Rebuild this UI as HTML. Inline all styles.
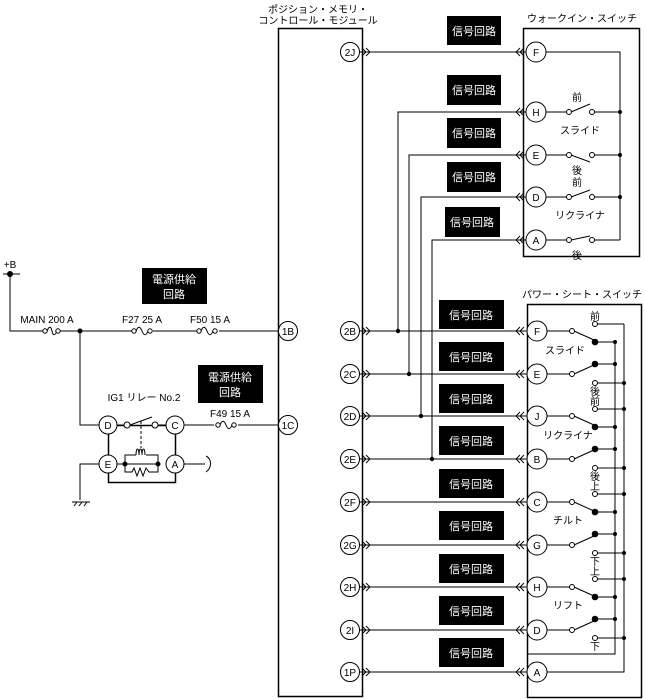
<!DOCTYPE html>
<html><head><meta charset="utf-8"><style>
html,body{margin:0;padding:0;background:#fff;}
svg{display:block;font-family:"Liberation Sans","Noto Sans CJK JP",sans-serif;}
</style></head><body>
<svg width="645" height="699" viewBox="0 0 645 699" xmlns="http://www.w3.org/2000/svg">
<g fill="none" stroke="#000" stroke-width="1">
<!-- ECU box -->
<rect x="278.5" y="28.5" width="84" height="668" stroke-width="1.5"/>
<!-- walk-in switch box -->
<rect x="523.5" y="28.5" width="116" height="228" stroke-width="1.5"/>
<!-- power seat box -->
<rect x="527.5" y="304.5" width="114" height="393" stroke-width="1.5"/>
<!-- relay box -->
<rect x="108.5" y="425.5" width="67" height="57" stroke-width="1.5"/>
</g>
<g font-size="10" fill="#000" text-anchor="middle">
<text x="318" y="13">ポジション・メモリ・</text>
<text x="318" y="24">コントロール・モジュール</text>
<text x="582" y="22">ウォークイン・スイッチ</text>
<text x="582" y="298">パワー・シート・スイッチ</text>
</g>
<!-- signal boxes -->
<g fill="#000">
<rect x="447" y="16" width="54" height="29"/>
<rect x="447" y="75" width="54" height="30"/>
<rect x="447" y="118" width="54" height="30"/>
<rect x="447" y="162" width="54" height="30"/>
<rect x="445" y="207" width="55" height="30"/>
<rect x="439" y="300" width="65" height="29"/>
<rect x="439" y="342" width="65" height="29"/>
<rect x="439" y="384" width="65" height="29"/>
<rect x="439" y="426" width="65" height="29"/>
<rect x="439" y="469" width="65" height="29"/>
<rect x="439" y="511" width="65" height="29"/>
<rect x="439" y="554" width="65" height="29"/>
<rect x="439" y="596" width="65" height="29"/>
<rect x="439" y="638" width="65" height="29"/>
<rect x="142" y="268" width="65" height="36"/>
<rect x="198" y="365" width="65" height="38"/>
</g>
<g fill="#fff" font-size="11" text-anchor="middle">
<text x="474" y="35">信号回路</text>
<text x="474" y="94">信号回路</text>
<text x="474" y="137">信号回路</text>
<text x="474" y="181">信号回路</text>
<text x="472" y="226">信号回路</text>
<text x="471" y="319">信号回路</text>
<text x="471" y="361">信号回路</text>
<text x="471" y="403">信号回路</text>
<text x="471" y="445">信号回路</text>
<text x="471" y="488">信号回路</text>
<text x="471" y="530">信号回路</text>
<text x="471" y="573">信号回路</text>
<text x="471" y="615">信号回路</text>
<text x="471" y="657">信号回路</text>
<text x="174" y="283">電源供給</text>
<text x="174" y="298">回路</text>
<text x="230" y="381">電源供給</text>
<text x="230" y="396">回路</text>
</g>
<!-- wires -->
<g fill="none" stroke="#000" stroke-width="1">
<path d="M359 52H527"/>
<path d="M359 331H527M359 374H527M359 416H527M359 459H527M359 502H527M359 545H527M359 587H527M359 630H527M359 672H527"/>
<path d="M527 112H398V331M527 155H409V374M527 197H421V416M527 240H432V459"/>
<!-- walk-in internal -->
<path d="M545 52H620V240M545 112H567M571 112L590 104M545 155H567M571 155L590 162M545 197H567M571 197L590 190M545 240H567M571 240L590 236M594 112H620M594 155H620M594 197H620M594 240H620"/>
<!-- left power -->
<path d="M3 274H20M10 274V331H44M58 331H133M153 331H197M219 331H279"/>
<path d="M80 331V425H99M117 425H124M130 425L152 417M158 425H166M184 425H214M238 425H279"/>
<path d="M99 464H80V500M184 464H205"/>
<path d="M141 421V448" stroke-dasharray="3,2"/>
<path d="M117 464H158M125 464V455H136M146 455H158V464M125 464V472H132L134 468L137 476L140 468L143 476L146 468L149 472H158V464"/>
<path d="M136 455c0-8 3-8 3 0c0-8 3-8 3 0c0-8 3-8 3 0"/>
<path d="M206 456c6 3 6 12 0 16"/>
<path d="M72 502H90M74 506L77 502M79 506L82 502M84 506L87 502"/>
<!-- fuses -->
<path d="M47 331c2-5 4-5 5 0s3 5 5 0M136 331c2-5 4-5 6 0s4 5 6 0M201 331c2-5 4-5 6 0s4 5 6 0M220 425c2-5 4-5 6 0s4 5 6 0"/>
</g>
<g fill="#fff" stroke="#000">
<circle cx="45" cy="331" r="2.2"/><circle cx="58" cy="331" r="2.2"/>
<circle cx="134" cy="331" r="2.2"/><circle cx="150" cy="331" r="2.2"/>
<circle cx="199" cy="331" r="2.2"/><circle cx="215" cy="331" r="2.2"/>
<circle cx="218" cy="425" r="2.2"/><circle cx="234" cy="425" r="2.2"/>
<circle cx="127" cy="425" r="3"/><circle cx="155" cy="425" r="3"/>
<circle cx="569" cy="112" r="2.5"/><circle cx="592" cy="112" r="2.5"/>
<circle cx="569" cy="155" r="2.5"/><circle cx="592" cy="155" r="2.5"/>
<circle cx="569" cy="197" r="2.5"/><circle cx="592" cy="197" r="2.5"/>
<circle cx="569" cy="240" r="2.5"/><circle cx="592" cy="240" r="2.5"/>
</g>
<g fill="#000">
<circle cx="10" cy="274" r="3"/><circle cx="80" cy="331" r="2.5"/>
<circle cx="125" cy="464" r="2.5"/><circle cx="158" cy="464" r="2.5"/>
<circle cx="398" cy="331" r="2.2"/><circle cx="409" cy="374" r="2.2"/>
<circle cx="421" cy="416" r="2.2"/><circle cx="432" cy="459" r="2.2"/>
<circle cx="620" cy="112" r="2"/><circle cx="620" cy="155" r="2"/><circle cx="620" cy="197" r="2"/>
</g>
<!-- power seat switches -->
<g fill="none" stroke="#000">
<path d="M546 331H570M574 331L594 340M595 342H615M546 374H570M574 374L594 365M595 364H615M597 324H624M597 383H624"/>
<path d="M546 416H570M574 416L594 425M595 427H615M546 459H570M574 459L594 450M595 449H615M597 409H624M597 468H624"/>
<path d="M546 502H570M574 502L594 511M595 512H615M546 545H570M574 545L594 536M595 534H615M597 494H624M597 553H624"/>
<path d="M546 587H570M574 587L594 596M595 597H615M546 630H570M574 630L594 621M595 619H615M597 579H624M597 638H624"/>
<path d="M615 342V654H527M624 324V672H546"/>
</g>
<g fill="#fff" stroke="#000">
<circle cx="572" cy="331" r="2.5"/><circle cx="572" cy="374" r="2.5"/><circle cx="572" cy="416" r="2.5"/><circle cx="572" cy="459" r="2.5"/>
<circle cx="572" cy="502" r="2.5"/><circle cx="572" cy="545" r="2.5"/><circle cx="572" cy="587" r="2.5"/><circle cx="572" cy="630" r="2.5"/>
<circle cx="595" cy="324" r="2.5"/><circle cx="595" cy="383" r="2.5"/><circle cx="595" cy="409" r="2.5"/><circle cx="595" cy="468" r="2.5"/>
<circle cx="595" cy="494" r="2.5"/><circle cx="595" cy="553" r="2.5"/><circle cx="595" cy="579" r="2.5"/><circle cx="595" cy="638" r="2.5"/>
</g>
<g fill="#000">
<circle cx="595" cy="342" r="3.3"/><circle cx="595" cy="364" r="3.3"/><circle cx="595" cy="427" r="3.3"/><circle cx="595" cy="449" r="3.3"/>
<circle cx="595" cy="512" r="3.3"/><circle cx="595" cy="534" r="3.3"/><circle cx="595" cy="597" r="3.3"/><circle cx="595" cy="619" r="3.3"/>
<circle cx="615" cy="342" r="2"/><circle cx="615" cy="364" r="2"/><circle cx="615" cy="427" r="2"/><circle cx="615" cy="449" r="2"/>
<circle cx="615" cy="512" r="2"/><circle cx="615" cy="534" r="2"/><circle cx="615" cy="597" r="2"/><circle cx="615" cy="619" r="2"/>
<circle cx="624" cy="383" r="2"/><circle cx="624" cy="409" r="2"/><circle cx="624" cy="468" r="2"/><circle cx="624" cy="494" r="2"/>
<circle cx="624" cy="553" r="2"/><circle cx="624" cy="579" r="2"/><circle cx="624" cy="638" r="2"/>
</g>
<!-- chevrons -->
<g fill="none" stroke="#000" stroke-width="0.9">
<path d="M362 48l4 4-4 4M366 48l4 4-4 4"/>
<path d="M362 327l4 4-4 4M366 327l4 4-4 4M362 370l4 4-4 4M366 370l4 4-4 4M362 412l4 4-4 4M366 412l4 4-4 4M362 455l4 4-4 4M366 455l4 4-4 4M362 498l4 4-4 4M366 498l4 4-4 4M362 541l4 4-4 4M366 541l4 4-4 4M362 583l4 4-4 4M366 583l4 4-4 4M362 626l4 4-4 4M366 626l4 4-4 4M362 668l4 4-4 4M366 668l4 4-4 4"/>
<path d="M520 48l-4 4 4 4M524 48l-4 4 4 4M520 108l-4 4 4 4M524 108l-4 4 4 4M520 151l-4 4 4 4M524 151l-4 4 4 4M520 193l-4 4 4 4M524 193l-4 4 4 4M520 236l-4 4 4 4M524 236l-4 4 4 4"/>
<path d="M520 327l-4 4 4 4M524 327l-4 4 4 4M520 370l-4 4 4 4M524 370l-4 4 4 4M520 412l-4 4 4 4M524 412l-4 4 4 4M520 455l-4 4 4 4M524 455l-4 4 4 4M520 498l-4 4 4 4M524 498l-4 4 4 4M520 541l-4 4 4 4M524 541l-4 4 4 4M520 583l-4 4 4 4M524 583l-4 4 4 4M520 626l-4 4 4 4M524 626l-4 4 4 4M520 668l-4 4 4 4M524 668l-4 4 4 4"/>
</g>
<!-- connector circles -->
<g fill="#fff" stroke="#000">
<circle cx="288" cy="331" r="9.5"/><circle cx="288" cy="425" r="9.5"/>
<circle cx="350" cy="52" r="9.5"/><circle cx="350" cy="331" r="9.5"/><circle cx="350" cy="374" r="9.5"/><circle cx="350" cy="416" r="9.5"/><circle cx="350" cy="459" r="9.5"/><circle cx="350" cy="502" r="9.5"/><circle cx="350" cy="545" r="9.5"/><circle cx="350" cy="587" r="9.5"/><circle cx="350" cy="630" r="9.5"/><circle cx="350" cy="672" r="9.5"/>
<circle cx="536" cy="52" r="10"/><circle cx="536" cy="112" r="10"/><circle cx="536" cy="155" r="10"/><circle cx="536" cy="197" r="10"/><circle cx="536" cy="240" r="10"/>
<circle cx="537" cy="331" r="10"/><circle cx="537" cy="374" r="10"/><circle cx="537" cy="416" r="10"/><circle cx="537" cy="459" r="10"/><circle cx="537" cy="502" r="10"/><circle cx="537" cy="545" r="10"/><circle cx="537" cy="587" r="10"/><circle cx="537" cy="630" r="10"/><circle cx="537" cy="672" r="10"/>
<circle cx="108" cy="425" r="9"/><circle cx="175" cy="425" r="9"/><circle cx="108" cy="464" r="9"/><circle cx="175" cy="464" r="9"/>
</g>
<g font-size="10" fill="#000" text-anchor="middle">
<text x="288" y="335">1B</text><text x="288" y="429">1C</text>
<text x="350" y="56">2J</text><text x="350" y="335">2B</text><text x="350" y="378">2C</text><text x="350" y="420">2D</text><text x="350" y="463">2E</text><text x="350" y="506">2F</text><text x="350" y="549">2G</text><text x="350" y="591">2H</text><text x="350" y="634">2I</text><text x="350" y="676">1P</text>
<text x="536" y="56">F</text><text x="536" y="116">H</text><text x="536" y="159">E</text><text x="536" y="201">D</text><text x="536" y="244">A</text>
<text x="537" y="335">F</text><text x="537" y="378">E</text><text x="537" y="420">J</text><text x="537" y="463">B</text><text x="537" y="506">C</text><text x="537" y="549">G</text><text x="537" y="591">H</text><text x="537" y="634">D</text><text x="537" y="676">A</text>
<text x="108" y="429">D</text><text x="175" y="429">C</text><text x="108" y="468">E</text><text x="175" y="468">A</text>
<text x="10" y="268">+B</text>
<text x="47" y="323">MAIN 200 A</text>
<text x="142" y="323">F27 25 A</text>
<text x="210" y="323">F50 15 A</text>
<text x="230" y="417">F49 15 A</text>
<text x="144" y="401">IG1 リレー No.2</text>
<text x="577" y="101">前</text><text x="580" y="134">スライド</text><text x="577" y="174">後</text><text x="577" y="186">前</text><text x="580" y="219">リクライナ</text><text x="577" y="259">後</text>
<text x="595" y="320">前</text><text x="565" y="354">スライド</text><text x="595" y="395">後</text>
<text x="595" y="405">前</text><text x="568" y="439">リクライナ</text><text x="595" y="480">後</text>
<text x="595" y="490">上</text><text x="568" y="524">チルト</text><text x="595" y="565">下</text>
<text x="595" y="575">上</text><text x="568" y="609">リフト</text><text x="595" y="650">下</text>
</g>
</svg>
</body></html>
